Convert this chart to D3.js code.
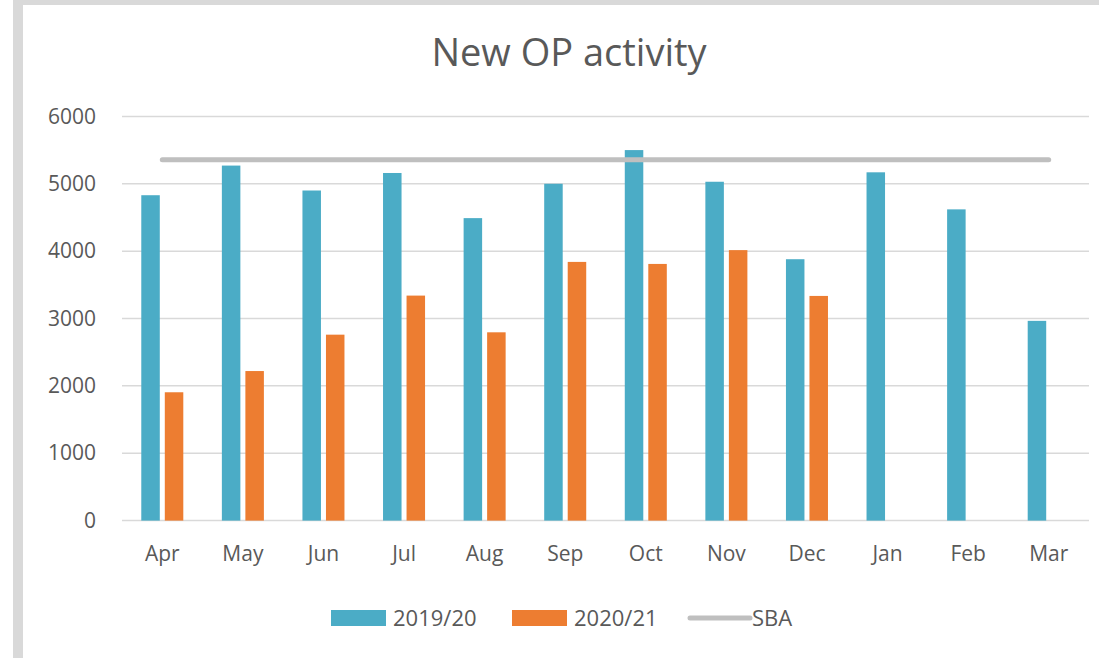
<!DOCTYPE html>
<html>
<head>
<meta charset="utf-8">
<script src="https://cdn.jsdelivr.net/npm/d3@7"></script>
<style>
    body { margin: 0; background: #fff; }
    svg { display: block; font-family: "Open Sans", sans-serif; }
</style>
</head>
<body>
<svg width="1099" height="658"></svg>
<script>
var months = ["Apr", "May", "Jun", "Jul", "Aug", "Sep", "Oct", "Nov", "Dec", "Jan", "Feb", "Mar"];
var series = ["2019/20", "2020/21"];
var values1920 = [4830, 5270, 4900, 5160, 4490, 5000, 5500, 5030, 3880, 5170, 4620, 2965];
var values2021 = [1905, 2220, 2760, 3340, 2795, 3840, 3810, 4015, 3335, null, null, null];
var sba = 5355;
var yTicks = [0, 1000, 2000, 3000, 4000, 5000, 6000];
var colors = ["#4bacc6", "#ed7d31"];
var sbaColor = "#bfbfbf";

var svg = d3.select("svg"),
        width = +svg.attr("width"),
        height = +svg.attr("height");

// grey frame of the chart box (left + top edges)
svg.append("rect").attr("x", 13).attr("y", 0).attr("width", 10).attr("height", height).attr("fill", "#d9d9d9");
svg.append("rect").attr("x", 13).attr("y", 0).attr("width", width - 13).attr("height", 5).attr("fill", "#d9d9d9");

var x0 = d3.scaleBand().domain(months).range([122, 1089]).padding(0);
var x1 = d3.scaleBand().domain(series).range([0, x0.bandwidth()])
        .paddingInner(0.213).paddingOuter(0.82);
var y = d3.scaleLinear().domain([0, 6000]).range([520.6, 116.4]);

svg.append("text")
        .attr("x", 569)
        .attr("y", 66)
        .attr("text-anchor", "middle")
        .attr("font-size", 38)
        .attr("fill", "#595959")
        .text("New OP activity");

// gridlines
svg.append("g").selectAll("line")
        .data(yTicks)
        .join("line")
        .attr("x1", 122).attr("x2", 1089)
        .attr("y1", function (d) { return y(d); })
        .attr("y2", function (d) { return y(d); })
        .attr("stroke", "#d9d9d9")
        .attr("stroke-width", 1.5);

var yAxis = svg.append("g")
        .attr("transform", "translate(96,0)")
        .call(d3.axisLeft(y).tickValues(yTicks).tickFormat(d3.format("d")).tickSize(0).tickPadding(0));
yAxis.select(".domain").remove();
yAxis.selectAll("text")
        .attr("font-size", 21)
        .attr("font-family", "Open Sans")
        .attr("fill", "#595959");

var xAxis = svg.append("g")
        .attr("transform", "translate(0,521)")
        .call(d3.axisBottom(x0).tickSize(0).tickPadding(25));
xAxis.select(".domain").remove();
xAxis.selectAll("text")
        .attr("font-size", 21)
        .attr("font-family", "Open Sans")
        .attr("fill", "#595959");

var rows = months.map(function (m, i) {
    return {month: m, vals: [values1920[i], values2021[i]]};
});

svg.append("g").selectAll("g")
        .data(rows)
        .join("g")
        .attr("transform", function (d) { return "translate(" + x0(d.month) + ",0)"; })
        .selectAll("rect")
        .data(function (d) {
            return series.map(function (s, j) { return {key: s, value: d.vals[j], i: j}; })
                    .filter(function (e) { return e.value != null; });
        })
        .join("rect")
        .attr("x", function (d) { return x1(d.key); })
        .attr("width", x1.bandwidth())
        .attr("y", function (d) { return y(d.value); })
        .attr("height", function (d) { return y(0) - y(d.value); })
        .attr("fill", function (d) { return colors[d.i]; });

// SBA line from first to last category centre
svg.append("line")
        .attr("x1", x0(months[0]) + x0.bandwidth() / 2)
        .attr("x2", x0(months[months.length - 1]) + x0.bandwidth() / 2)
        .attr("y1", y(sba)).attr("y2", y(sba))
        .attr("stroke", sbaColor)
        .attr("stroke-width", 5)
        .attr("stroke-linecap", "round");

// legend
var legend = svg.append("g").attr("font-size", 22).attr("fill", "#595959");
var legendItems = [
    {label: series[0], x: 331, type: "bar", color: colors[0]},
    {label: series[1], x: 512, type: "bar", color: colors[1]},
    {label: "SBA", x: 690, type: "line", color: sbaColor}
];
legendItems.forEach(function (d) {
    if (d.type === "bar") {
        legend.append("rect").attr("x", d.x).attr("y", 610).attr("width", 55).attr("height", 16).attr("fill", d.color);
        legend.append("text").attr("x", d.x + 62).attr("y", 626).text(d.label);
    } else {
        legend.append("line").attr("x1", d.x).attr("x2", d.x + 60).attr("y1", 618).attr("y2", 618)
                .attr("stroke", d.color).attr("stroke-width", 5).attr("stroke-linecap", "round");
        legend.append("text").attr("x", d.x + 62).attr("y", 626).text(d.label);
    }
});
</script>
</body>
</html>
